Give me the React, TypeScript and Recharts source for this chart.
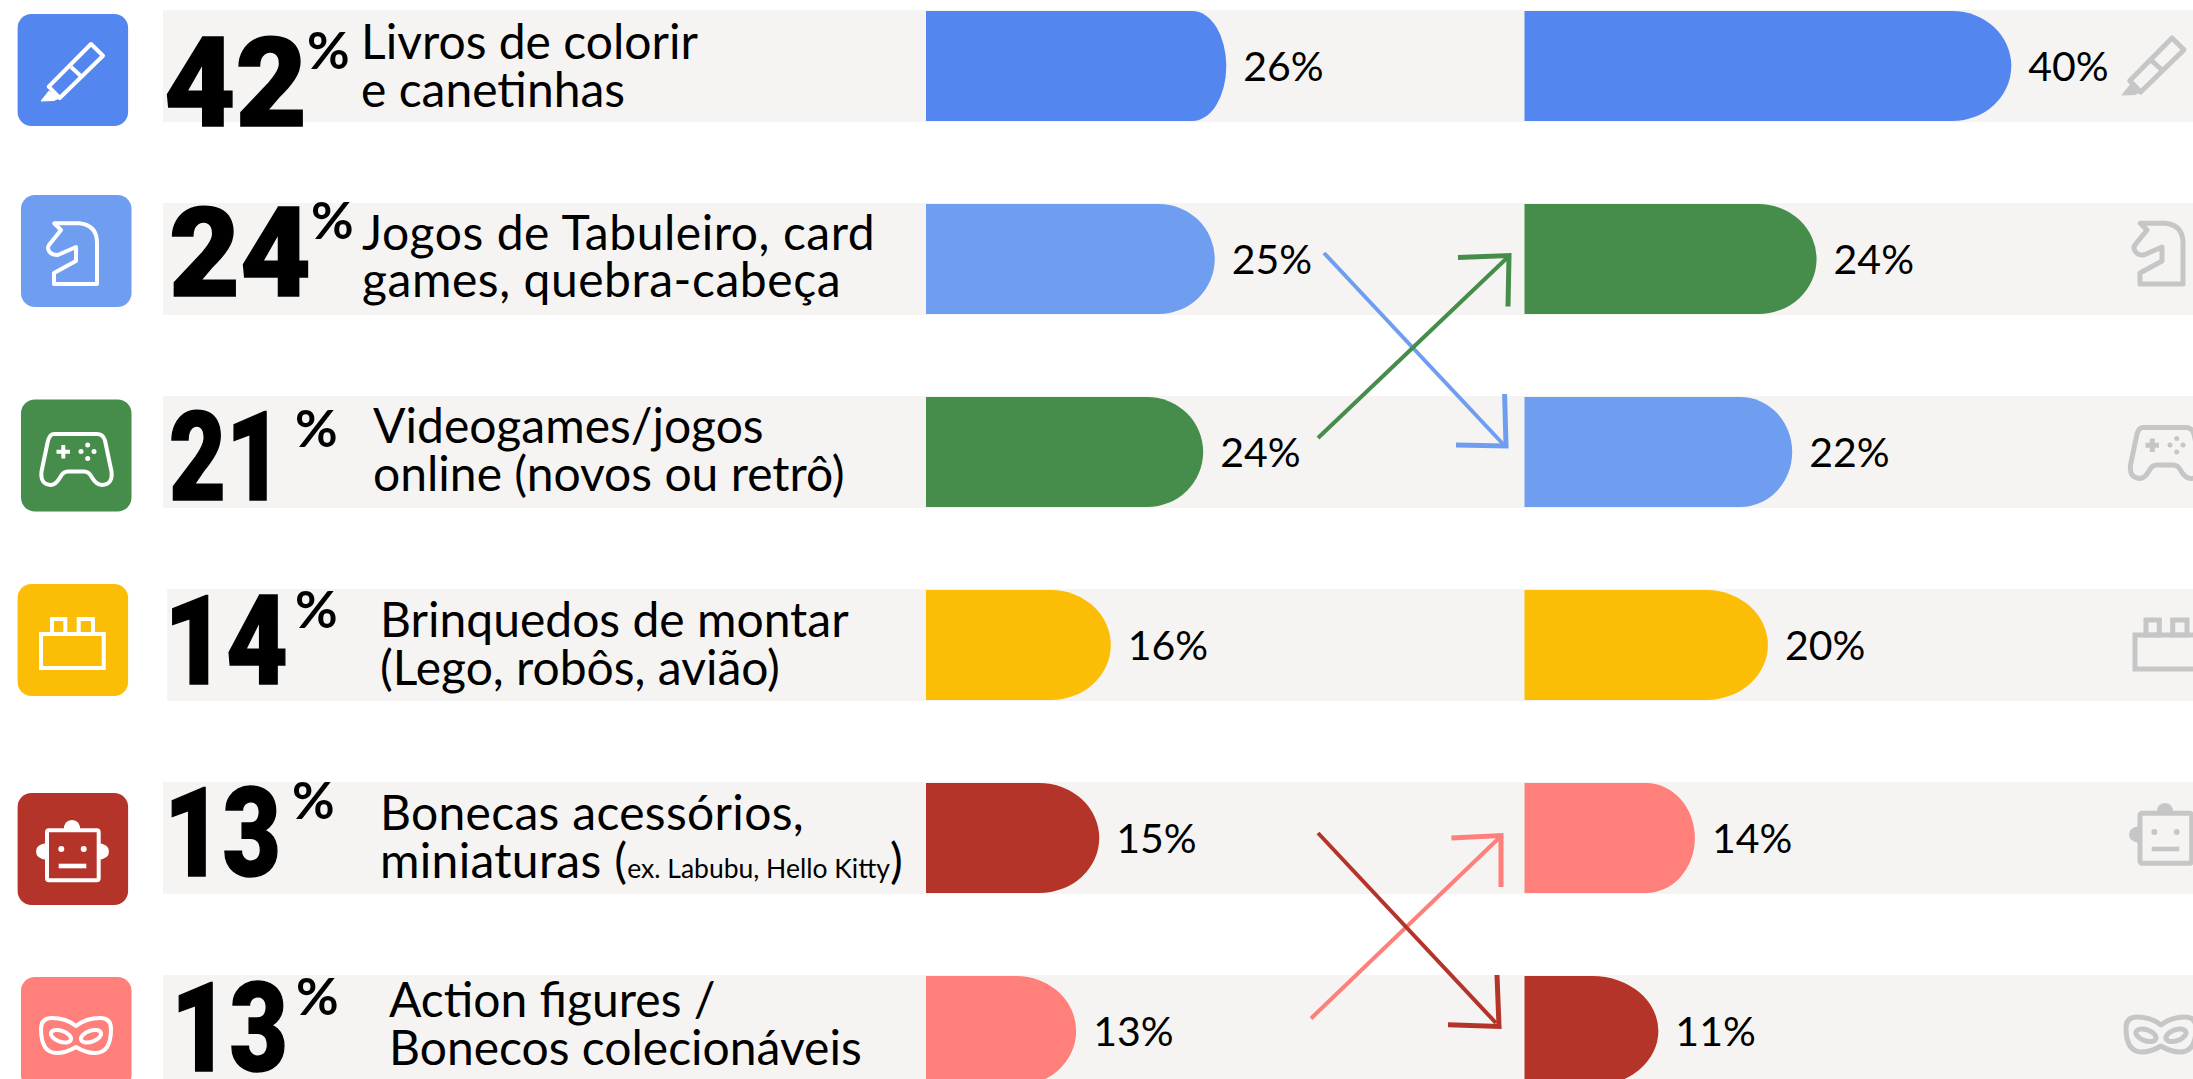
import React from 'react'
import { BarChart, Bar, XAxis, YAxis, LabelList } from 'recharts'

// Values
const categories = ['pen', 'knight', 'gamepad', 'brick', 'robot', 'mask']
const totals = [42, 24, 21, 14, 13, 13]
const firstLines = ['Livros de colorir', 'Jogos de Tabuleiro, card', 'Videogames/jogos', 'Brinquedos de montar', 'Bonecas acessórios,', 'Action figures /']
const secondLines = ['e canetinhas', 'games, quebra-cabeça', 'online (novos ou retrô)', '(Lego, robôs, avião)', 'miniaturas (', 'Bonecos colecionáveis']
const notes = ['', '', '', '', 'ex. Labubu, Hello Kitty', '']
const leftValues = [26, 25, 24, 16, 15, 13]
const rightValues = [40, 24, 22, 20, 14, 11]

const BLUE = '#5387ef'
const LIGHT_BLUE = '#6f9ef1'
const GREEN = '#468c4a'
const YELLOW = '#fcbd07'
const RED = '#b5342a'
const SALMON = '#ff7f7b'
const BAND = '#f5f4f2'
const ICON_GRAY = '#c6c6c6'
const FONT = 'Lato, sans-serif'

const leftColors = [BLUE, LIGHT_BLUE, GREEN, YELLOW, RED, SALMON]
const rightColors = [BLUE, GREEN, LIGHT_BLUE, YELLOW, SALMON, RED]
const leftCapRx = [34, 56, 56, 60, 60, 60]
const rightCapRx = [59, 58, 52, 62, 49, 66]

// per row offsets of the texts, relative to the row centre (the source slides are not aligned)
const bigNumberX = [164, 169, 169, 164, 164, 171]
const bigNumberWidth = [143, 142, 114, 124, 117, 117]
const bigNumberDy = [60, 37, 48, 39, 38, 40]
const percentX = [307, 311, 295, 295, 292, 296]
const percentDy = [3, -20, -5, -17, -19, -16]
const labelX = [361, 362, 373, 380, 380, 389]
const labelSpacing = [0, 0.55, 0, 0, 0.3, 0]
const firstLineDy = [-7, -9, -9, -8, -8, -14]
const secondLineDy = [41, 38, 39, 40, 40, 34]
const bandInset = [0, 0, 0, 4, 0, 0]

const PLOT_LEFT = 163
const WIDTH = 2193
const LEFT_ZERO = 926
const LEFT_PX_PER_PCT = 11.55
const RIGHT_ZERO = 1524.5
const RIGHT_PX_PER_PCT = 12.17

const data = categories.map((name, i) => ({ name, left: leftValues[i], right: rightValues[i] }))

function cappedBar(colors: string[], capRx: number[]) {
  return (props: any) => {
    const { x, y, width, height, index } = props
    const rx = capRx[index]
    const d = `M${x} ${y}H${x + width - rx}A${rx} ${height / 2} 0 0 1 ${x + width - rx} ${y + height}H${x}Z`
    return <path d={d} fill={colors[index]} />
  }
}

function bandBackground(props: any) {
  const { x, y, width, height, index } = props
  const inset = bandInset[index]
  return <rect x={x + inset} y={y - 1} width={width - inset} height={height + 2} fill={BAND} />
}

// big number and category name, hung on the left series so they sit on top of the band
function RowText({ y, height, index }: any) {
  const mid = y + height / 2
  return (
    <g fontFamily={FONT} fill="#000">
      <text
        x={bigNumberX[index]}
        y={mid + bigNumberDy[index]}
        fontFamily="Roboto, sans-serif"
        fontSize={124}
        fontWeight={900}
        stroke="#000"
        strokeWidth={1.5}
        textLength={bigNumberWidth[index]}
        lengthAdjust="spacingAndGlyphs"
      >
        {totals[index]}
      </text>
      <text x={percentX[index]} y={mid + percentDy[index]} fontSize={52} fontWeight={700}>%</text>
      <text x={labelX[index]} y={mid + firstLineDy[index]} fontSize={48} letterSpacing={labelSpacing[index]}>
        {firstLines[index]}
      </text>
      <text x={labelX[index]} y={mid + secondLineDy[index]} fontSize={48} letterSpacing={labelSpacing[index]}>
        {secondLines[index]}
        {notes[index] && <tspan fontSize={26.5} letterSpacing={0}>{notes[index]}</tspan>}
        {notes[index] && ')'}
      </text>
    </g>
  )
}

// icons are drawn in a small local box
function IconShape({ name, color, sw }: { name: string; color: string; sw: number }) {
  const common = { fill: 'none', stroke: color, strokeWidth: sw, strokeLinejoin: 'round' as const }
  switch (name) {
    case 'pen':
      return (
        <g {...common}>
          <path d="M51 1L63 12.7L19.7 55L8.7 43.7Z" />
          <path d="M31 24L42 34" />
          <path d="M9 48L1 58L14 57.5L19 55Z" fill={color} strokeWidth={1} />
        </g>
      )
    case 'knight':
      return (
        <g {...common}>
          <path d="M7.3 2.3H32Q50 4 50 22V63H7V52L29 40V26L10.7 34Q4 34 2 30Q0 27 2 24L14 9Z" />
        </g>
      )
    case 'gamepad':
      return (
        <g {...common}>
          <path d="M14 2.5H57Q63 2.5 65 9L71.5 40Q73 53 62 53.5Q56 53 52 46Q49 40 44 40H28Q23 40 20 46Q16 53 11 53.5Q0 53 1.5 40L8 9Q10 2.5 14 2.5Z" />
          <path d="M23.3 13.5V27M16.5 20.2H30" />
          <g fill={color} stroke="none">
            <circle cx={47.7} cy={13.5} r={2.5} />
            <circle cx={41} cy={20} r={2.5} />
            <circle cx={54} cy={20} r={2.5} />
            <circle cx={47.7} cy={27} r={2.5} />
          </g>
        </g>
      )
    case 'brick':
      return (
        <g {...common} strokeLinejoin="miter">
          <rect x={2} y={17} width={62.7} height={34} />
          <rect x={13} y={2} width={13.3} height={15} />
          <rect x={39.7} y={2} width={14.3} height={15} />
        </g>
      )
    case 'robot':
      return (
        <g {...common}>
          <path d="M11 24Q0 25 0 32.5Q0 40 11 41Z" fill={color} stroke="none" />
          <path d="M62 24Q73 25 73 32.5Q73 40 62 41Z" fill={color} stroke="none" />
          <path d="M27.7 11Q28 1 36 1Q44 1 44.3 11Z" fill={color} stroke="none" />
          <rect x={11} y={11.3} width={51.7} height={50} rx={2} />
          <g fill={color} stroke="none">
            <circle cx={25.3} cy={30} r={3} />
            <circle cx={47.7} cy={30} r={3} />
            <rect x={22.7} y={44.7} width={27.6} height={4.6} />
          </g>
        </g>
      )
    default:
      return (
        <g {...common}>
          <path d="M1 12Q1 1 12 1Q26 1 36 9Q46 1 60 1Q71 1 71 12Q71 36 55 36Q46 36 36 30Q26 36 17 36Q1 36 1 12Z" />
          <ellipse cx={21} cy={19.3} rx={10.5} ry={5.5} transform="rotate(20 21 19.3)" />
          <ellipse cx={51} cy={19.3} rx={10.5} ry={5.5} transform="rotate(-20 51 19.3)" />
        </g>
      )
  }
}

// [tile x, tile y, icon x, icon y, gray icon x, gray icon y]
const iconBoxes = [
  [17.6, 14, 40, 43, 2121, 37],
  [21, 195, 47, 221, 2133, 221],
  [21, 399.5, 40, 431.5, 2129, 425],
  [17.6, 584, 39, 617, 2133, 618],
  [17.6, 793, 36, 819, 2129, 802],
  [21, 977, 40, 1017, 2125, 1016],
]

// [x1, y1, x2, y2, head start x, head start y, head tip x, head tip y, head end x, head end y]
const arrows: [string, number[]][] = [
  [LIGHT_BLUE, [1324, 253, 1503, 444, 1504.6, 394, 1506, 446, 1456, 445]],
  [GREEN, [1318, 438, 1508, 257, 1458, 257.6, 1509, 255.5, 1508, 306.5]],
  [SALMON, [1311, 1018.5, 1499, 838, 1451.4, 838, 1501, 835.6, 1501, 887]],
  [RED, [1318, 833, 1496, 1023, 1497, 975, 1499, 1026.4, 1448, 1024.7]],
]

function Overlay() {
  return (
    <svg width={WIDTH} height={1079} style={{ position: 'absolute', left: 0, top: 0 }}>
      {iconBoxes.map((b, i) => (
        <g key={categories[i]}>
          <rect x={b[0]} y={b[1]} width={110.5} height={112} rx={14} fill={leftColors[i]} />
          <g transform={`translate(${b[2]} ${b[3]})`}>
            <IconShape name={categories[i]} color="#fff" sw={4} />
          </g>
          <g transform={`translate(${b[4]} ${b[5]})`}>
            <IconShape name={categories[i]} color={ICON_GRAY} sw={5} />
          </g>
        </g>
      ))}
      {arrows.map(([color, p], i) => (
        <g key={i} fill="none" stroke={color}>
          <path d={`M${p[0]} ${p[1]}L${p[2]} ${p[3]}`} strokeWidth={4} />
          <path d={`M${p[4]} ${p[5]}L${p[6]} ${p[7]}L${p[8]} ${p[9]}`} strokeWidth={5} />
        </g>
      ))}
    </svg>
  )
}

export default function App() {
  return (
    <div style={{ position: 'absolute', left: 0, top: 0, width: WIDTH, height: 1079, overflow: 'hidden', background: '#fff' }}>
      <div style={{ position: 'absolute', left: 0, top: -31 }}>
        <BarChart
          width={WIDTH}
          height={1158}
          data={data}
          layout="vertical"
          barSize={110}
          margin={{ top: 0, right: 0, bottom: 0, left: PLOT_LEFT }}
        >
          <XAxis
            xAxisId="left"
            type="number"
            hide
            domain={[(PLOT_LEFT - LEFT_ZERO) / LEFT_PX_PER_PCT, (WIDTH - LEFT_ZERO) / LEFT_PX_PER_PCT]}
          />
          <XAxis
            xAxisId="right"
            type="number"
            hide
            domain={[(PLOT_LEFT - RIGHT_ZERO) / RIGHT_PX_PER_PCT, (WIDTH - RIGHT_ZERO) / RIGHT_PX_PER_PCT]}
          />
          <YAxis yAxisId="left" type="category" dataKey="name" hide />
          <YAxis yAxisId="right" type="category" dataKey="name" hide />
          <Bar
            dataKey="left"
            xAxisId="left"
            yAxisId="left"
            isAnimationActive={false}
            background={bandBackground}
            shape={cappedBar(leftColors, leftCapRx)}
          >
            <LabelList dataKey="left" position="right" offset={17} formatter={(v: any) => `${v}%`} fill="#000" fontSize={41} fontFamily={FONT} />
            <LabelList dataKey="name" content={(props: any) => <RowText {...props} />} />
          </Bar>
          <Bar
            dataKey="right"
            xAxisId="right"
            yAxisId="right"
            isAnimationActive={false}
            shape={cappedBar(rightColors, rightCapRx)}
          >
            <LabelList dataKey="right" position="right" offset={17} formatter={(v: any) => `${v}%`} fill="#000" fontSize={41} fontFamily={FONT} />
          </Bar>
        </BarChart>
      </div>
      <Overlay />
    </div>
  )
}
